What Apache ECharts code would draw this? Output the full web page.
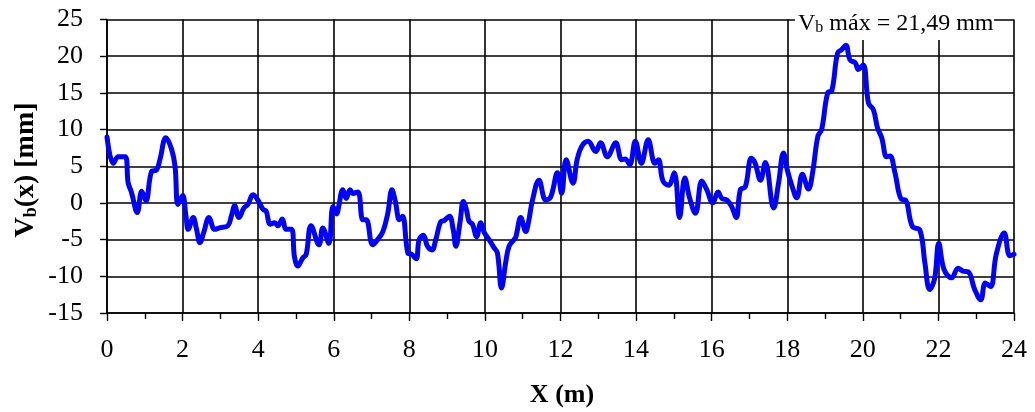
<!DOCTYPE html>
<html>
<head>
<meta charset="utf-8">
<script src="https://cdn.jsdelivr.net/npm/echarts@6/dist/echarts.min.js"></script>
<style>html,body{margin:0;padding:0;background:#fff}#c{width:1035px;height:412px}</style>
</head>
<body>
<div id="c"></div>
<script>
var xValues = [0,0.17,0.30,0.48,0.56,0.65,0.80,0.92,1.03,1.18,1.31,1.40,1.56,1.71,1.80,1.88,2.00,2.09,2.15,2.28,2.37,2.46,2.56,2.70,2.85,2.98,3.20,3.29,3.38,3.49,3.62,3.73,3.86,3.99,4.13,4.21,4.32,4.44,4.52,4.64,4.74,4.88,4.96,5.05,5.18,5.27,5.40,5.61,5.71,5.87,5.98,6.08,6.13,6.24,6.33,6.43,6.51,6.64,6.77,6.86,7.03,7.16,7.30,7.43,7.54,7.63,7.74,7.82,7.96,8.06,8.18,8.26,8.37,8.48,8.60,8.70,8.84,8.92,9.06,9.16,9.23,9.34,9.43,9.51,9.58,9.67,9.78,9.89,9.98,10.11,10.24,10.33,10.44,10.55,10.64,10.77,10.82,10.95,11.08,11.15,11.26,11.43,11.61,11.74,11.92,12.03,12.15,12.33,12.44,12.56,12.73,12.93,13.06,13.24,13.46,13.62,13.71,13.83,13.98,14.14,14.32,14.50,14.59,14.71,14.86,15.01,15.15,15.29,15.42,15.57,15.74,15.87,16.03,16.17,16.27,16.40,16.53,16.65,16.76,16.89,17.05,17.15,17.29,17.42,17.64,17.77,17.90,18.00,18.12,18.25,18.40,18.56,18.67,18.81,18.91,19.07,19.18,19.33,19.44,19.55,19.66,19.80,19.88,20.01,20.15,20.28,20.39,20.50,20.63,20.72,20.85,21.02,21.13,21.31,21.51,21.64,21.77,21.90,22.01,22.15,22.35,22.52,22.65,22.79,22.96,23.12,23.24,23.38,23.53,23.74,23.89,24.00];
var vbValues = [9.0,5.4,6.3,6.3,2.75,1.4,-1.3,1.6,0.3,4.3,4.5,5.9,8.9,7.3,5.0,-0.2,1.0,-1.8,-3.6,-2.0,-3.6,-5.4,-4.0,-2.0,-3.6,-3.4,-3.1,-1.8,-0.4,-2.0,-0.7,-0.2,1.1,0.4,-0.9,-1.1,-2.9,-2.7,-3.1,-2.2,-3.6,-3.6,-7.3,-8.6,-7.5,-7.0,-3.1,-5.7,-3.4,-5.5,-0.5,-1.5,-0.5,1.8,0.6,1.8,1.3,1.5,-2.3,-2.3,-5.7,-5.0,-3.9,-1.4,1.8,0.2,-2.3,-1.8,-6.8,-7.0,-7.6,-5.0,-4.4,-5.9,-6.4,-5.0,-2.5,-2.4,-1.8,-3.6,-5.9,-2.7,0.2,-0.9,-2.5,-2.9,-4.6,-2.7,-4.0,-5.0,-6.1,-6.8,-11.6,-8.1,-5.9,-5.0,-4.6,-2.0,-3.9,-2.7,0.4,3.1,0.4,0.8,4.1,1.3,5.9,2.7,5.9,7.7,8.4,7.0,8.2,6.3,8.2,5.9,6.0,5.2,8.4,5.4,8.6,5.4,5.9,3.0,2.4,4.1,-2.0,3.4,0.6,-1.4,3.0,1.8,0.0,1.5,0.6,0.4,-0.5,-2.0,1.8,2.2,6.1,5.4,3.1,5.5,-0.7,2.7,6.8,4.5,2.4,0.7,3.9,1.9,4.1,9.1,10.0,15.0,15.3,20.4,20.9,21.49,19.5,19.1,18.2,18.8,13.6,12.7,10.2,8.9,6.3,6.4,4.1,0.5,0.4,-3.2,-3.7,-8.1,-11.8,-10.3,-5.5,-9.1,-10.2,-8.9,-9.3,-9.4,-11.8,-13.2,-10.9,-11.4,-7.0,-4.1,-7.2,-7.0];
var xTicks = {min: 0, max: 24, interval: 2};
var yTicks = {min: -15, max: 25, interval: 5};
var maxLabel = 'máx = 21,49 mm';
var xTitle = 'X (m)';
var yTitleTail = '(x) [mm]';

var seriesData = xValues.map(function (x, i) { return [x, vbValues[i]]; });
var FONT = '"Liberation Serif", "Times New Roman", serif';

var chart = echarts.init(document.getElementById('c'), null, {renderer: 'canvas'});
chart.setOption({
  animation: false,
  backgroundColor: '#fff',
  grid: {left: 107, right: 21, top: 19.5, bottom: 99, containLabel: false},
  xAxis: {
    type: 'value', min: xTicks.min, max: xTicks.max, interval: xTicks.interval,
    axisLine: {show: true, onZero: false, lineStyle: {color: '#000', width: 1.6}},
    axisTick: {show: true, inside: false, length: 8, lineStyle: {color: '#000', width: 1.4}},
    minorTick: {show: true, splitNumber: 2, length: 6, lineStyle: {color: '#000', width: 1.4}},
    splitLine: {show: true, lineStyle: {color: '#000', width: 1.6}},
    axisLabel: {color: '#000', fontFamily: FONT, fontSize: 26, margin: 24}
  },
  yAxis: {
    type: 'value', min: yTicks.min, max: yTicks.max, interval: yTicks.interval,
    axisLine: {show: true, onZero: false, lineStyle: {color: '#000', width: 1.6}},
    axisTick: {show: true, inside: false, length: 7, lineStyle: {color: '#000', width: 1.4}},
    splitLine: {show: true, lineStyle: {color: '#000', width: 1.6}},
    axisLabel: {color: '#000', fontFamily: FONT, fontSize: 26, margin: 24}
  },
  series: [{
    type: 'line', data: seriesData, smooth: 0.4, showSymbol: false,
    lineStyle: {color: '#0000ff', width: 5, cap: 'round', join: 'round'},
    clip: true
  }],
  graphic: [
    {type: 'rect', left: 795, top: 8, shape: {width: 199, height: 32}, style: {fill: '#fff'}, z: 100},
    {type: 'text', left: 798, top: 12, z: 101,
      style: {
        text: '{a|V}{b|b}{a| ' + maxLabel + '}',
        rich: {
          a: {fontFamily: FONT, fontSize: 24, lineHeight: 26, fill: '#000', verticalAlign: 'bottom'},
          b: {fontFamily: FONT, fontSize: 16, lineHeight: 16, fill: '#000', verticalAlign: 'bottom'}
        }
      }
    },
    {type: 'text', z: 101,
      style: {x: 562, y: 395, text: xTitle, align: 'center', verticalAlign: 'middle',
        fontFamily: FONT, fontSize: 26, fontWeight: 'bold', fill: '#000'}
    },
    {type: 'text', x: 25, y: 170, rotation: Math.PI / 2, z: 101,
      style: {
        x: 0, y: 0, align: 'center', verticalAlign: 'middle',
        text: '{a|V}{b|b}{a|' + yTitleTail + '}',
        rich: {
          a: {fontFamily: FONT, fontSize: 28, fontWeight: 'bold', lineHeight: 30, fill: '#000', verticalAlign: 'bottom'},
          b: {fontFamily: FONT, fontSize: 18, fontWeight: 'bold', lineHeight: 18, fill: '#000', verticalAlign: 'bottom'}
        }
      }
    }
  ]
});
</script>
</body>
</html>
